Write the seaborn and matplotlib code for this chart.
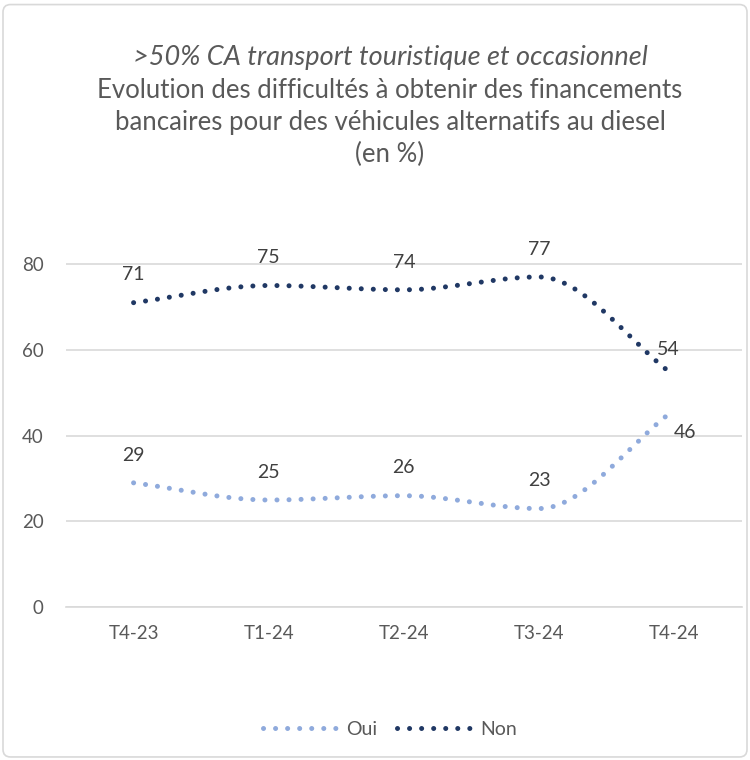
import numpy as np
import pandas as pd
import matplotlib.pyplot as plt
import seaborn as sns
from matplotlib.lines import Line2D
from matplotlib.patches import FancyBboxPatch

# data
trimestres = ['T4-23', 'T1-24', 'T2-24', 'T3-24', 'T4-24']
oui = [29, 25, 26, 23, 46]
non = [71, 75, 74, 77, 54]

c_oui = '#8FAADC'
c_non = '#203864'
grid_c = '#D9D9D9'
txt_c = '#595959'
lab_c = '#404040'

sns.set_theme(style='white')
plt.rcParams['font.family'] = ['Lato', 'DejaVu Sans']


def smooth(xs, ys, n=40):
    # smoothed line, flat at local peaks (monotone bezier)
    xs = np.asarray(xs, float)
    ys = np.asarray(ys, float)
    d = np.diff(ys) / np.diff(xs)
    m = np.zeros(len(ys))
    m[0], m[-1] = d[0], d[-1]
    for i in range(1, len(ys) - 1):
        if d[i - 1] * d[i] > 0:
            m[i] = 2 / (1 / d[i - 1] + 1 / d[i])
    px, py = [], []
    for i in range(len(ys) - 1):
        h = xs[i + 1] - xs[i]
        t = np.linspace(0, 1, n)
        if i > 0:
            t = t[1:]
        b = [(1 - t) ** 3, 3 * (1 - t) ** 2 * t, 3 * (1 - t) * t ** 2, t ** 3]
        cx = [xs[i], xs[i] + h / 3, xs[i + 1] - h / 3, xs[i + 1]]
        cy = [ys[i], ys[i] + m[i] * h / 3, ys[i + 1] - m[i + 1] * h / 3, ys[i + 1]]
        px.append(sum(bb * c for bb, c in zip(b, cx)))
        py.append(sum(bb * c for bb, c in zip(b, cy)))
    return np.concatenate(px), np.concatenate(py)


fig = plt.figure(figsize=(7.5, 7.6), dpi=100)
ax = fig.add_axes([0.088, 0.201, 0.901, 0.508])

xpos = np.arange(len(trimestres))
dots = (0, (0.01, 2.4))
for vals, col in [(oui, c_oui), (non, c_non)]:
    sx, sy = smooth(xpos, vals)
    df = pd.DataFrame({'x': sx, 'y': sy})
    sns.lineplot(data=df, x='x', y='y', color=col, linewidth=3.6, linestyle=dots,
                 dash_capstyle='round', sort=False, ax=ax)

# data labels
off_oui = [(0, 20), (0, 20), (0, 20), (0, 20), (8, -16)]
off_non = [(0, 20), (0, 20), (0, 20), (0, 20), (-4, 19)]
for i in range(len(trimestres)):
    ax.annotate(str(oui[i]), (xpos[i], oui[i]), xytext=off_oui[i], textcoords='offset points',
                ha='center', va='center', fontsize=14, color=lab_c)
    ax.annotate(str(non[i]), (xpos[i], non[i]), xytext=off_non[i], textcoords='offset points',
                ha='center', va='center', fontsize=14, color=lab_c)

ax.set_xlim(-0.5, 4.5)
ax.set_ylim(0, 90)
ax.set_yticks([0, 20, 40, 60, 80])
ax.set_xticks(xpos)
ax.set_xticklabels(trimestres)
ax.tick_params(axis='both', length=0, labelsize=13.5, labelcolor=txt_c)
ax.tick_params(axis='x', pad=13)
ax.tick_params(axis='y', pad=16)
ax.grid(axis='y', color=grid_c, linewidth=1.2)
ax.set_axisbelow(True)
ax.set_xlabel('')
ax.set_ylabel('')
for s in ['top', 'right', 'left']:
    ax.spines[s].set_visible(False)
ax.spines['bottom'].set_color(grid_c)
ax.spines['bottom'].set_linewidth(1.2)

# titre
titre = ['>50% CA transport touristique et occasionnel',
         'Evolution des difficultés à obtenir des financements',
         'bancaires pour des véhicules alternatifs au diesel',
         '(en %)']
for k, ligne in enumerate(titre):
    fig.text(0.52, 1 - (58 + 32.3 * k) / 760, ligne, ha='center', va='center',
             fontsize=19.5 if k == 0 else 18.5,
             style='italic' if k == 0 else 'normal', color=txt_c)

# legende
handles = [Line2D([], [], color=c_oui, linewidth=3.6, linestyle=dots, dash_capstyle='round'),
           Line2D([], [], color=c_non, linewidth=3.6, linestyle=dots, dash_capstyle='round')]
fig.legend(handles, ['Oui', 'Non'], loc='center', bbox_to_anchor=(0.52, 0.04), ncol=2,
           frameon=False, fontsize=14, labelcolor=txt_c, handlelength=4.0,
           columnspacing=1.0, handletextpad=0.3)

fig.patches.append(FancyBboxPatch((0.004, 0.004), 0.992, 0.99, boxstyle='round,pad=0,rounding_size=0.01',
                                  transform=fig.transFigure, facecolor='none', edgecolor=grid_c,
                                  linewidth=1.2))

fig.savefig('out.png', dpi=100)
